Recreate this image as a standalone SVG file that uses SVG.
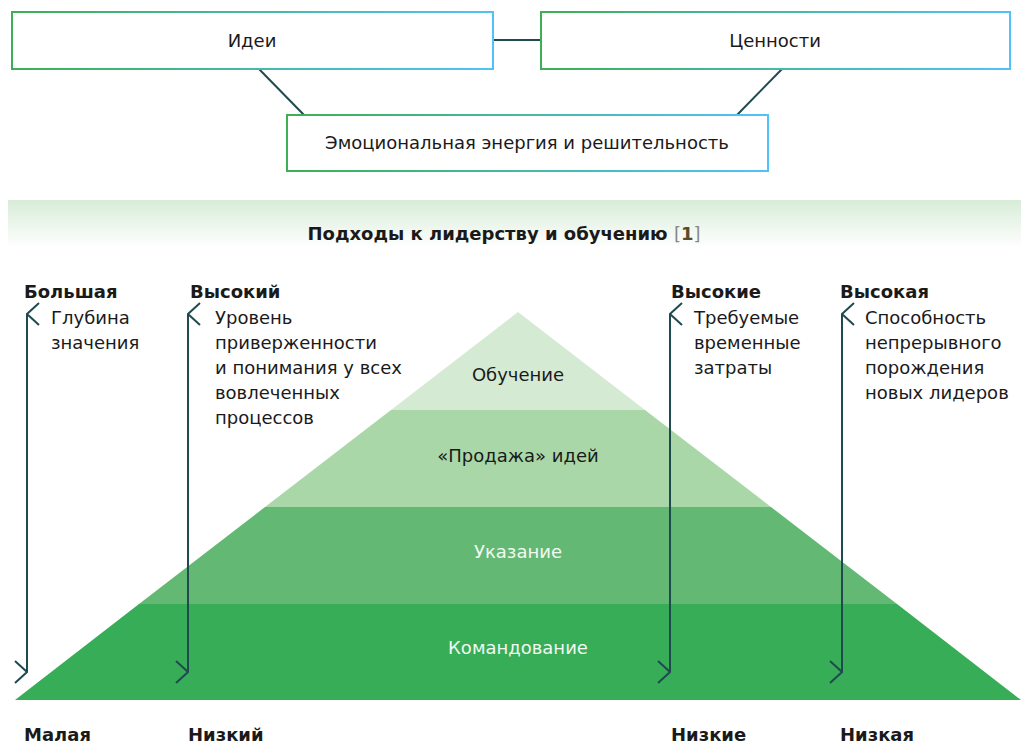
<svg xmlns="http://www.w3.org/2000/svg" width="1024" height="748" viewBox="0 0 1024 748">
<defs>
<linearGradient id="bd" x1="0" y1="0" x2="1" y2="0"><stop offset="0" stop-color="#3cb054"/><stop offset="1" stop-color="#4fc3f7"/></linearGradient>
<linearGradient id="band" x1="0" y1="0" x2="0" y2="1"><stop offset="0" stop-color="#d8ecd8"/><stop offset="1" stop-color="#ffffff"/></linearGradient>
<marker id="ah" viewBox="0 0 24 14" refX="12" refY="1" markerWidth="24" markerHeight="14" markerUnits="userSpaceOnUse" orient="auto-start-reverse"><path d="M1,13 L12,1 L23,13" fill="none" stroke="#1f4a50" stroke-width="2"/></marker>
</defs>
<style>
text{font-family:"DejaVu Sans",sans-serif;font-size:18px;fill:#1a1a1a}
.b{font-weight:bold}
.box{fill:#fff;stroke:url(#bd);stroke-width:2}
.c{stroke:#1f4a50;stroke-width:2;fill:none}
.ar{stroke:#1f4a50;stroke-width:2;marker-start:url(#ah);marker-end:url(#ah)}
.w{fill:#f2f8f2}
</style>
<rect width="1024" height="748" fill="#fff"/>
<g id="connectors">
<line class="c" x1="493" y1="40" x2="541" y2="40"/>
<line class="c" x1="259" y1="69" x2="304" y2="115"/>
<line class="c" x1="782" y1="69" x2="737" y2="115"/>
</g>
<g id="ideas"><rect class="box" x="12" y="12" width="481" height="57"/><text x="252" y="47" text-anchor="middle">Идеи</text></g>
<g id="values"><rect class="box" x="541" y="12" width="469" height="57"/><text x="775" y="47" text-anchor="middle">Ценности</text></g>
<g id="energy"><rect class="box" x="287" y="115" width="481" height="56"/><text x="527" y="149" text-anchor="middle">Эмоциональная энергия и решительность</text></g>
<rect x="8" y="200" width="1013" height="48" fill="url(#band)"/>
<text class="b" x="504" y="240" text-anchor="middle">Подходы к лидерству и обучению <tspan fill="#888" font-weight="normal">[</tspan><tspan fill="#5a4a2a">1</tspan><tspan fill="#888" font-weight="normal">]</tspan></text>
<g id="pyramid">
<polygon points="518,312 645,410 391,410" fill="#d4ead3"/>
<polygon points="391,410 645,410 771,507 265,507" fill="#a9d7a8"/>
<polygon points="265,507 771,507 897,604 139,604" fill="#63b874"/>
<polygon points="139,604 897,604 1021,700 15,700" fill="#37ad57"/>
<text x="518" y="381" text-anchor="middle" fill="#444">Обучение</text>
<text x="518" y="462" text-anchor="middle" fill="#333">«Продажа» идей</text>
<text x="518" y="558" text-anchor="middle" class="w">Указание</text>
<text x="518" y="654" text-anchor="middle" class="w">Командование</text>
</g>
<g id="arrows">
<line class="ar" x1="27" y1="314" x2="27" y2="672"/>
<line class="ar" x1="188" y1="314" x2="188" y2="672"/>
<line class="ar" x1="670" y1="314" x2="670" y2="672"/>
<line class="ar" x1="842" y1="314" x2="842" y2="672"/>
</g>
<g id="labels">
<text class="b" x="24" y="298">Большая</text>
<text x="51" y="324">Глубина</text><text x="51" y="349">значения</text>
<text class="b" x="24" y="741">Малая</text>
<text class="b" x="190" y="298">Высокий</text>
<text x="215" y="324">Уровень</text><text x="215" y="349">приверженности</text><text x="215" y="374">и понимания у всех</text><text x="215" y="399">вовлеченных</text><text x="215" y="424">процессов</text>
<text class="b" x="188" y="741">Низкий</text>
<text class="b" x="671" y="298">Высокие</text>
<text x="694" y="324">Требуемые</text><text x="694" y="349">временные</text><text x="694" y="374">затраты</text>
<text class="b" x="671" y="741">Низкие</text>
<text class="b" x="840" y="298">Высокая</text>
<text x="865" y="324">Способность</text><text x="865" y="349">непрерывного</text><text x="865" y="374">порождения</text><text x="865" y="399">новых лидеров</text>
<text class="b" x="840" y="741">Низкая</text>
</g>
</svg>
